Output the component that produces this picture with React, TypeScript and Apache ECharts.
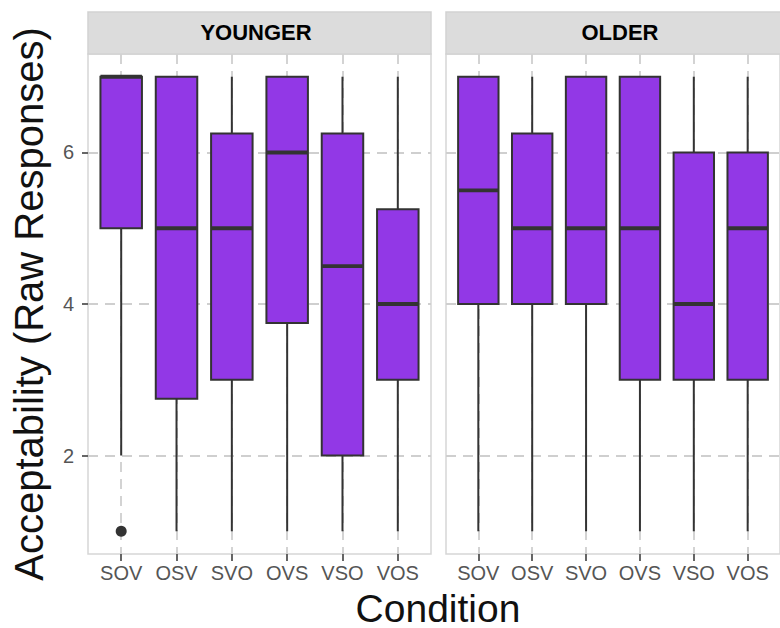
import React, { useEffect, useRef } from "react";
import * as echarts from "echarts";

const categories = ["SOV", "OSV", "SVO", "OVS", "VSO", "VOS"];
const panels = ["YOUNGER", "OLDER"];
// [low whisker, Q1, median, Q3, high whisker]
const youngerStats = [
  [2, 5, 7, 7, 7],
  [1, 2.75, 5, 7, 7],
  [1, 3, 5, 6.25, 7],
  [1, 3.75, 6, 7, 7],
  [1, 2, 4.5, 6.25, 7],
  [1, 3, 4, 5.25, 7],
];
const olderStats = [
  [1, 4, 5.5, 7, 7],
  [1, 4, 5, 6.25, 7],
  [1, 4, 5, 7, 7],
  [1, 3, 5, 7, 7],
  [1, 3, 4, 6, 7],
  [1, 3, 5, 6, 7],
];
const youngerOutliers = [["SOV", 1]];
const olderOutliers: [string, number][] = [];
const yTicks = [2, 4, 6];

const FILL = "#9238e6";
const DARK = "#333333";
const GRIDC = "#cfcfcf";

export default function App() {
  const ref = useRef<HTMLDivElement>(null);
  useEffect(() => {
    if (!ref.current) return;
    const chart = echarts.init(ref.current, null, { renderer: "svg" });
    const xIdx = categories.map((_, i) => i + 1);
    const grids = [
      { left: 88, top: 54, width: 343, height: 500 },
      { left: 446, top: 54, width: 343, height: 500 },
    ];
    const toItems = (stats: number[][]) =>
      stats.map((s, i) => [i + 1, ...s]);
    const toOut = (o: any[]) =>
      o.map(([c, v]) => [categories.indexOf(c) + 1, v]);

    const renderItem = (params: any, api: any) => {
      const x = api.value(0);
      const pLow = api.coord([x, api.value(1)]);
      const pQ1 = api.coord([x, api.value(2)]);
      const pMed = api.coord([x, api.value(3)]);
      const pQ3 = api.coord([x, api.value(4)]);
      const pHigh = api.coord([x, api.value(5)]);
      const half = api.size([0.75, 0])[0] / 2;
      const cx = pMed[0];
      const children: any[] = [];
      if (pLow[1] - pQ1[1] > 0.5)
        children.push({
          type: "line",
          shape: { x1: cx, y1: pLow[1], x2: cx, y2: pQ1[1] },
          style: { stroke: DARK, lineWidth: 2 },
        });
      if (pQ3[1] - pHigh[1] > 0.5)
        children.push({
          type: "line",
          shape: { x1: cx, y1: pQ3[1], x2: cx, y2: pHigh[1] },
          style: { stroke: DARK, lineWidth: 2 },
        });
      children.push({
        type: "rect",
        shape: { x: cx - half, y: pQ3[1], width: half * 2, height: pQ1[1] - pQ3[1] },
        style: { fill: FILL, stroke: DARK, lineWidth: 2 },
      });
      children.push({
        type: "line",
        shape: { x1: cx - half, y1: pMed[1], x2: cx + half, y2: pMed[1] },
        style: { stroke: DARK, lineWidth: 3.8 },
      });
      return { type: "group", children };
    };

    const xAxes = grids.map((_, gi) => ({
      type: "value",
      gridIndex: gi,
      min: 0.4,
      max: 6.6,
      axisLine: { show: false },
      axisTick: {
        show: true,
        customValues: xIdx,
        length: 7,
        lineStyle: { color: "#555", width: 1.8 },
      },
      axisLabel: {
        show: true,
        customValues: xIdx,
        formatter: (v: number) => categories[Math.round(v) - 1] ?? "",
        color: "#555",
        fontSize: 20,
        fontFamily: "Liberation Sans",
        margin: 9,
      },
      splitLine: {
        show: true,
        lineStyle: { color: GRIDC, width: 1.8, type: [10, 7] },
      },
    }));
    const yAxes = grids.map((_, gi) => ({
      type: "value",
      gridIndex: gi,
      min: 0.7,
      max: 7.3,
      axisLine: { show: false },
      axisTick: {
        show: gi === 0,
        customValues: yTicks,
        length: 6,
        lineStyle: { color: "#555", width: 1.8 },
      },
      axisLabel: {
        show: gi === 0,
        customValues: yTicks,
        color: "#555",
        fontSize: 20,
        fontFamily: "Liberation Sans",
        margin: 14,
      },
      splitLine: {
        show: true,
        lineStyle: { color: GRIDC, width: 1.8, type: [10, 7] },
      },
    }));

    const stripTexts = [256, 620];
    const graphic: any[] = [];
    grids.forEach((g, i) => {
      graphic.push({
        type: "rect",
        shape: { x: g.left, y: 12, width: g.width, height: g.top - 12 },
        style: { fill: "#dcdcdc", stroke: "#d2d2d2", lineWidth: 1.5 },
        z: 10,
      });
      graphic.push({
        type: "text",
        x: stripTexts[i],
        y: 32,
        style: {
          text: panels[i],
          fill: "#000",
          font: "bold 22px 'Liberation Sans'",
          textAlign: "center",
          textVerticalAlign: "middle",
        },
        z: 11,
      });
    });
    graphic.push({
      type: "text",
      x: 29,
      y: 304,
      rotation: Math.PI / 2,
      style: {
        text: "Acceptability (Raw Responses)",
        fill: "#111",
        font: "40px 'Liberation Sans'",
        textAlign: "center",
        textVerticalAlign: "middle",
      },
    });
    graphic.push({
      type: "text",
      x: 438,
      y: 608,
      style: {
        text: "Condition",
        fill: "#111",
        font: "39px 'Liberation Sans'",
        textAlign: "center",
        textVerticalAlign: "middle",
      },
    });

    chart.setOption({
      animation: false,
      backgroundColor: "#ffffff",
      grid: grids.map((g) => ({
        ...g,
        show: true,
        borderColor: "#d6d6d6",
        borderWidth: 1.5,
        backgroundColor: "#ffffff",
      })),
      xAxis: xAxes,
      yAxis: yAxes,
      graphic,
      series: [
        {
          type: "custom",
          xAxisIndex: 0,
          yAxisIndex: 0,
          renderItem,
          data: toItems(youngerStats),
          encode: { x: 0, y: [1, 2, 3, 4, 5] },
          z: 3,
        },
        {
          type: "custom",
          xAxisIndex: 1,
          yAxisIndex: 1,
          renderItem,
          data: toItems(olderStats),
          encode: { x: 0, y: [1, 2, 3, 4, 5] },
          z: 3,
        },
        {
          type: "scatter",
          xAxisIndex: 0,
          yAxisIndex: 0,
          data: toOut(youngerOutliers),
          symbolSize: 11,
          itemStyle: { color: DARK, opacity: 1 },
          z: 4,
        },
        {
          type: "scatter",
          xAxisIndex: 1,
          yAxisIndex: 1,
          data: toOut(olderOutliers),
          symbolSize: 11,
          itemStyle: { color: DARK, opacity: 1 },
          z: 4,
        },
      ],
    });
    return () => chart.dispose();
  }, []);
  return (
    <div
      ref={ref}
      style={{ position: "fixed", left: 0, top: 0, width: 780, height: 628, background: "#fff" }}
    />
  );
}
